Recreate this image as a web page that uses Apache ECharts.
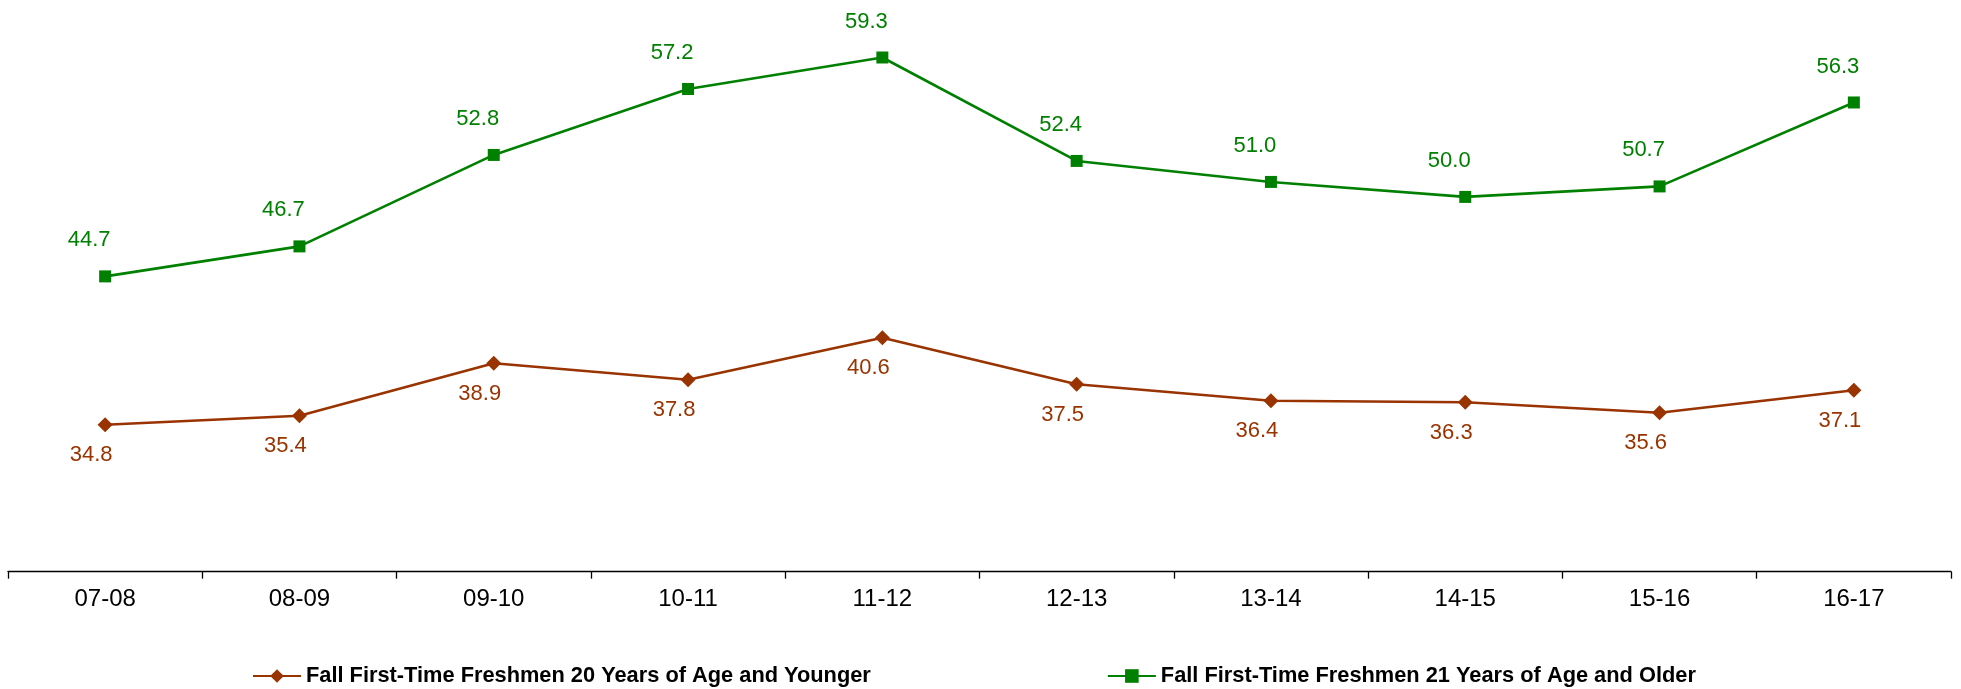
<!DOCTYPE html>
<html>
<head>
<meta charset="utf-8">
<script src="https://cdn.jsdelivr.net/npm/echarts@6/dist/echarts.min.js"></script>
<style>
html,body{margin:0;padding:0;background:#fff;}
#c{width:1961px;height:689px;}
</style>
</head>
<body>
<div id="c"></div>
<script>
var categories = ['07-08','08-09','09-10','10-11','11-12','12-13','13-14','14-15','15-16','16-17'];
var younger = [34.8, 35.4, 38.9, 37.8, 40.6, 37.5, 36.4, 36.3, 35.6, 37.1];
var older = [44.7, 46.7, 52.8, 57.2, 59.3, 52.4, 51.0, 50.0, 50.7, 56.3];
var seriesNames = ['Fall First-Time Freshmen 20 Years of Age and Younger', 'Fall First-Time Freshmen 21 Years of Age and Older'];

var FONT = '"Liberation Sans", Arial, sans-serif';
var chart = echarts.init(document.getElementById('c'));
chart.setOption({
  animation: false,
  backgroundColor: '#ffffff',
  grid: {left: 8, right: 10, top: 47, bottom: 117.3, containLabel: false},
  legend: {
    left: 247, top: 660,
    itemWidth: 48, itemHeight: 17, itemGap: 236,
    textStyle: {fontFamily: FONT, fontSize: 21.8, fontWeight: 'bold', color: '#000'},
    data: seriesNames
  },
  xAxis: {
    type: 'category',
    data: categories,
    boundaryGap: true,
    axisLine: {lineStyle: {color: '#000', width: 1.3}},
    axisTick: {show: true, inside: false, length: 7, lineStyle: {color: '#000', width: 1.3}},
    axisLabel: {fontFamily: FONT, fontSize: 24, color: '#000', margin: 16}
  },
  yAxis: {
    type: 'value', min: 25, max: 60,
    show: false,
    splitLine: {show: false}
  },
  series: [
    {
      name: seriesNames[0], type: 'line', data: younger,
      symbol: 'diamond', symbolSize: 15,
      itemStyle: {color: '#993300'},
      lineStyle: {color: '#993300', width: 2.6},
      label: {show: true, position: 'bottom', distance: 12, offset: [-14, 0],
        fontFamily: FONT, fontSize: 22, color: '#993300',
        formatter: function(p){ return p.value.toFixed(1); }}
    },
    {
      name: seriesNames[1], type: 'line', data: older,
      symbol: 'rect', symbolSize: 12,
      itemStyle: {color: '#008000'},
      lineStyle: {color: '#008000', width: 2.6},
      label: {show: true, position: 'top', distance: 19, offset: [-16, 0],
        fontFamily: FONT, fontSize: 22, color: '#008000',
        formatter: function(p){ return p.value.toFixed(1); }}
    }
  ]
});
</script>
</body>
</html>
